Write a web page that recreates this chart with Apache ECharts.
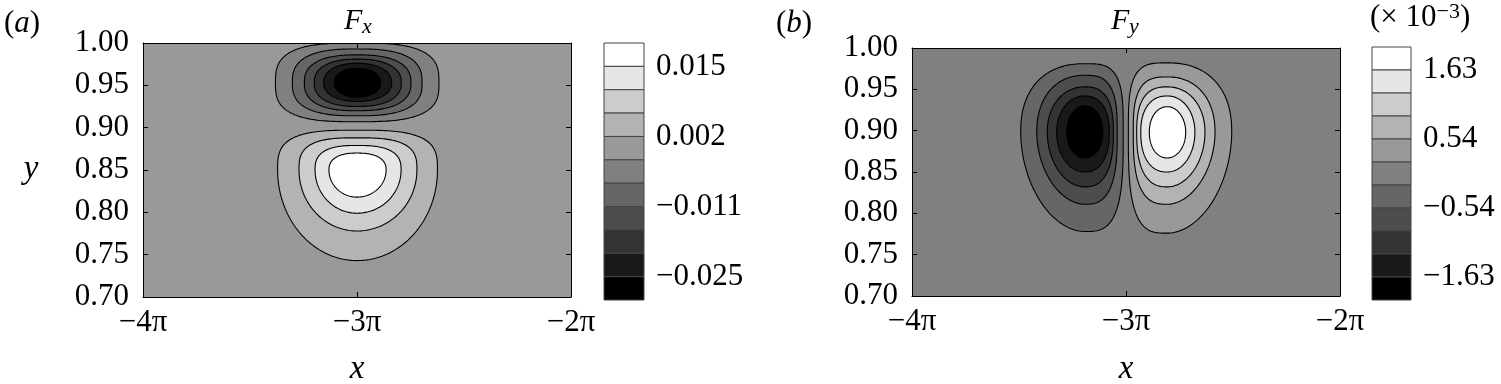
<!DOCTYPE html>
<html>
<head>
<meta charset="utf-8">
<script src="https://cdn.jsdelivr.net/npm/echarts@6/dist/echarts.min.js"></script>
<style>
  html, body { margin: 0; padding: 0; background: #fff; }
  #chart { width: 1501px; height: 384px; }
</style>
</head>
<body>
<div id="chart"></div>
<script>
// contour levels = boundaries of the 11 colour bands (top of the colour bar first)
const fxLevels = [0.0194, 0.0150, 0.0106, 0.0062, 0.0018, -0.0026, -0.0070, -0.0114, -0.0158, -0.0202, -0.0246, -0.0290];
const fyLevels = [1.992, 1.630, 1.268, 0.906, 0.543, 0.181, -0.181, -0.543, -0.906, -1.268, -1.630, -1.992]; // x 10^-3
const fxBarLabels = ['0.015', '0.002', '−0.011', '−0.025'];
const fyBarLabels = ['1.63', '0.54', '−0.54', '−1.63'];
const barLabelBounds = [1, 4, 7, 10];
const xTickLabels = ['−4π', '−3π', '−2π']; // x axis in units of pi, -4 .. -2

// contour rings: [level, xMin, xMax, yMin, yMax], x in units of pi
const fxNegRings = [
  [-0.0026, -3.381, -2.617, 0.907, 1.000],
  [-0.0070, -3.302, -2.696, 0.914, 0.993],
  [-0.0114, -3.246, -2.748, 0.920, 0.986],
  [-0.0158, -3.200, -2.793, 0.925, 0.981],
  [-0.0202, -3.156, -2.838, 0.931, 0.976],
  [-0.0246, -3.107, -2.889, 0.936, 0.970]
];
const fxPosRings = [
  [0.0018, -3.371, -2.624, 0.743, 0.897],
  [0.0062, -3.271, -2.720, 0.778, 0.888],
  [0.0106, -3.196, -2.794, 0.799, 0.879],
  [0.0150, -3.131, -2.864, 0.818, 0.870]
];
const fyNegRings = [
  [-0.181, -3.492, -3.013, 0.778, 0.981],
  [-0.543, -3.417, -3.041, 0.811, 0.967],
  [-0.906, -3.368, -3.059, 0.832, 0.953],
  [-1.268, -3.324, -3.078, 0.850, 0.942],
  [-1.630, -3.277, -3.109, 0.867, 0.930]
];
const fyPosRings = [
  [0.181, -2.989, -2.506, 0.776, 0.982],
  [0.543, -2.966, -2.584, 0.811, 0.965],
  [0.906, -2.950, -2.631, 0.832, 0.953],
  [1.268, -2.931, -2.678, 0.850, 0.942],
  [1.630, -2.891, -2.721, 0.867, 0.929]
];
// centre of each lobe [x, y]
const fxNegCentre = [-3, 0.953];
const fxPosCentre = [-3, 0.850];
const fyNegCentre = [-3.193, 0.898];
const fyPosCentre = [-2.807, 0.898];

// ring shapes: superellipse exponent per quadrant [top-right, top-left, bottom-left, bottom-right]
const fxNegShape = [[3, 3, 3, 3], [2.7, 2.7, 2.7, 2.7], [2.5, 2.5, 2.5, 2.5], [2.35, 2.35, 2.35, 2.35], [2.2, 2.2, 2.2, 2.2], [2.1, 2.1, 2.1, 2.1]];
const fxPosShape = [[3.2, 3.2, 2, 2], [3, 3, 2, 2], [2.7, 2.7, 2, 2], [2.4, 2.4, 2, 2]];
const fyNegShape = [[3.5, 2.3, 1.9, 3.2], [3, 2.2, 1.9, 2.8], [2.6, 2.1, 1.95, 2.5], [2.3, 2.05, 2, 2.3], [2.1, 2, 2, 2.1]];
const fyPosShape = fyNegShape.map(p => [p[1], p[0], p[3], p[2]]);

const serif = '"Liberation Serif", "Times New Roman", serif';

function grey(band) {
  const g = Math.round(255 * (1 - band / 10));
  return 'rgb(' + g + ',' + g + ',' + g + ')';
}
function bandOf(levels, lvl) {
  const k = levels.indexOf(lvl);
  return lvl > 0 ? k - 1 : k;
}
function zeroBand(levels) {
  return levels.findIndex((v, i) => v > 0 && levels[i + 1] <= 0);
}

function outline(r, c, p) {
  const x0 = r[1], x1 = r[2], y0 = r[3], y1 = r[4], xc = c[0], yc = c[1];
  const pts = [];
  const n = 200;
  for (let i = 0; i < n; i++) {
    const t = i / n * 2 * Math.PI, cs = Math.cos(t), sn = Math.sin(t);
    const q = sn >= 0 ? (cs >= 0 ? 0 : 1) : (cs < 0 ? 2 : 3);
    const e = p[q];
    const dx = Math.sign(cs) * Math.pow(Math.abs(cs), 2 / e) * (cs >= 0 ? x1 - xc : xc - x0);
    const dy = Math.sign(sn) * Math.pow(Math.abs(sn), 2 / e) * (sn >= 0 ? y1 - yc : yc - y0);
    pts.push([xc + dx, yc + dy]);
  }
  return pts;
}

function contourSeries(rings, centres, shapes, levels, idx) {
  return {
    type: 'custom',
    xAxisIndex: idx,
    yAxisIndex: idx,
    clip: true,
    z: 2,
    encode: { x: [1, 2], y: [3, 4] },
    data: rings,
    renderItem: function (params, api) {
      const i = params.dataIndex;
      const pts = outline(rings[i], centres[i], shapes[i]).map(pt => api.coord(pt));
      return {
        type: 'polygon',
        shape: { points: pts },
        style: { fill: grey(bandOf(levels, rings[i][0])), stroke: '#000', lineWidth: 1.1 }
      };
    }
  };
}

function colourBarSeries(levels, idx) {
  return {
    type: 'custom',
    xAxisIndex: idx,
    yAxisIndex: idx,
    data: levels.slice(0, 11).map((v, k) => [0.5, 10.5 - k]),
    renderItem: function (params, api) {
      const k = params.dataIndex;
      const a = api.coord([0, 11 - k]), b = api.coord([1, 10 - k]);
      return {
        type: 'rect',
        shape: { x: a[0], y: a[1], width: b[0] - a[0], height: b[1] - a[1] },
        style: { fill: grey(k), stroke: '#444', lineWidth: 1 }
      };
    }
  };
}

const tickFont = { fontFamily: serif, fontSize: 31, color: '#000' };
const frame = { show: true, onZero: false, lineStyle: { color: '#000', width: 1 } };
const inTick = { show: true, inside: true, length: 5, lineStyle: { color: '#000', width: 1 } };

function plotXAxes(grid) {
  return [
    { gridIndex: grid, type: 'value', min: -4, max: -2, interval: 1, position: 'bottom', z: 5,
      axisLine: frame, axisTick: inTick, splitLine: { show: false },
      axisLabel: Object.assign({ margin: 10, formatter: v => xTickLabels[Math.round(v) + 4] }, tickFont) },
    { gridIndex: grid, type: 'value', min: -4, max: -2, interval: 1, position: 'top', z: 5,
      axisLine: frame, axisTick: inTick, splitLine: { show: false }, axisLabel: { show: false } }
  ];
}
function plotYAxes(grid) {
  return [
    { gridIndex: grid, type: 'value', min: 0.7, max: 1.0, interval: 0.05, position: 'left', z: 5,
      axisLine: frame, axisTick: inTick, splitLine: { show: false },
      axisLabel: Object.assign({ margin: 14, formatter: v => v.toFixed(2) }, tickFont) },
    { gridIndex: grid, type: 'value', min: 0.7, max: 1.0, interval: 0.05, position: 'right', z: 5,
      axisLine: frame, axisTick: inTick, splitLine: { show: false }, axisLabel: { show: false } }
  ];
}
function barXAxis(grid) {
  return { gridIndex: grid, type: 'value', min: 0, max: 1, show: false };
}
function barYAxis(grid, labels) {
  return {
    gridIndex: grid, type: 'value', min: 0, max: 11, interval: 1, position: 'right',
    axisLine: { show: false }, axisTick: { show: false }, splitLine: { show: false },
    axisLabel: Object.assign({
      margin: 12,
      formatter: function (v) {
        const j = barLabelBounds.indexOf(11 - Math.round(v));
        return j < 0 ? '' : labels[j];
      }
    }, tickFont)
  };
}

function label(text, x, y, size, italic, align) {
  return {
    type: 'text', x: x, y: y, z: 10,
    style: {
      text: text, fontFamily: serif, fontSize: size, fontStyle: italic ? 'italic' : 'normal',
      fill: '#000', align: align || 'left', verticalAlign: 'middle',
      textAlign: align || 'left', textVerticalAlign: 'middle'
    }
  };
}
function panelTag(letter, x) {
  return {
    type: 'text', x: x, y: 24, z: 10,
    style: {
      text: '{n|(}{i|' + letter + '}{n|)}', fill: '#000', align: 'left', verticalAlign: 'middle',
      rich: {
        n: { fontFamily: serif, fontSize: 31, fill: '#000' },
        i: { fontFamily: serif, fontSize: 31, fontStyle: 'italic', fill: '#000' }
      }
    }
  };
}

const chart = echarts.init(document.getElementById('chart'));
chart.setOption({
  animation: false,
  backgroundColor: '#fff',
  grid: [
    { left: 143, top: 43, width: 428, height: 254, show: true, borderWidth: 0, backgroundColor: grey(zeroBand(fxLevels)) },
    { left: 604, top: 43, width: 40, height: 257 },
    { left: 912, top: 48, width: 428, height: 248, show: true, borderWidth: 0, backgroundColor: grey(zeroBand(fyLevels)) },
    { left: 1372, top: 47, width: 39, height: 253 }
  ],
  xAxis: [].concat(plotXAxes(0), [barXAxis(1)], plotXAxes(2), [barXAxis(3)]),
  yAxis: [].concat(plotYAxes(0), [barYAxis(1, fxBarLabels)], plotYAxes(2), [barYAxis(3, fyBarLabels)]),
  series: [
    contourSeries(fxNegRings.concat(fxPosRings),
      fxNegRings.map(() => fxNegCentre).concat(fxPosRings.map(() => fxPosCentre)),
      fxNegShape.concat(fxPosShape), fxLevels, 0),
    colourBarSeries(fxLevels, 2),
    contourSeries(fyNegRings.concat(fyPosRings),
      fyNegRings.map(() => fyNegCentre).concat(fyPosRings.map(() => fyPosCentre)),
      fyNegShape.concat(fyPosShape), fyLevels, 3),
    colourBarSeries(fyLevels, 5)
  ],
  graphic: [
    panelTag('a', 4),
    panelTag('b', 776),
    label('F', 344, 21, 30, true),
    label('x', 362, 27, 22, true),
    label('F', 1111, 21, 30, true),
    label('y', 1129, 27, 22, true),
    label('y', 31, 169, 33, true, 'center'),
    label('x', 357, 369, 33, true, 'center'),
    label('x', 1126, 369, 33, true, 'center'),
    {
      type: 'text', x: 1370, y: 1, z: 10,
      style: {
        text: '{n|(× 10}{s|−3}{n|)}', fill: '#000', align: 'left', verticalAlign: 'top',
        rich: {
          n: { fontFamily: serif, fontSize: 31, lineHeight: 34, fill: '#000' },
          s: { fontFamily: serif, fontSize: 22, lineHeight: 20, verticalAlign: 'top', fill: '#000' }
        }
      }
    }
  ]
});
</script>
</body>
</html>
